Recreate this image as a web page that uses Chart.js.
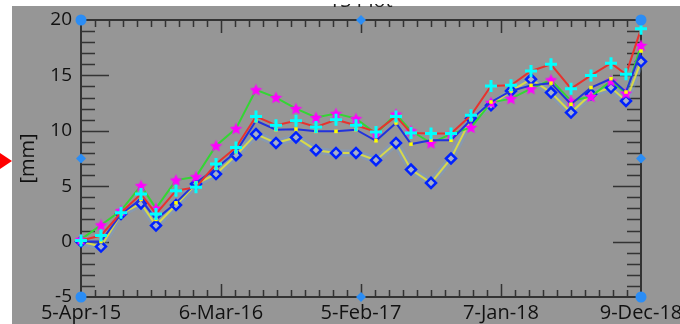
<!DOCTYPE html>
<html>
<head>
<meta charset="utf-8">
<script src="https://cdn.jsdelivr.net/npm/chart.js@4"></script>
<style>
  body { margin: 0; background: #fff; width: 680px; height: 324px; overflow: hidden; position: relative; }
  #wrap { position: absolute; left: 12px; top: 6px; width: 668px; height: 318px; background: #969696; }
  #arrow { position: absolute; left: 0; top: 153px; width: 0; height: 0;
    border-left: 12px solid #ff0000; border-top: 8px solid transparent; border-bottom: 8px solid transparent; }
  #title { position: absolute; left: 300px; width: 122px; top: -10px; text-align: center;
    font: 20px "Open Sans", sans-serif; line-height: 20px; color: #222; z-index: 2; }
  #cover { position: absolute; left: 0; top: 0; width: 680px; height: 4px; background: #fff; z-index: 3; }
</style>
</head>
<body>
<div id="arrow"></div>
<div id="title">TS Plot</div>
<div id="cover"></div>
<div id="wrap"><canvas id="plot" width="668" height="318"></canvas></div>
<script>
// days since 5-Apr-15 for each acquisition
const days = [0, 48, 96, 144, 180, 228, 276, 324, 372, 420, 468, 516, 564, 612, 660,
  708, 756, 792, 840, 888, 936, 984, 1032, 1080, 1128, 1176, 1224, 1272, 1308, 1344];

const tickDays = [0, 336, 672, 1008, 1344];
const tickLabels = ["5-Apr-15", "6-Mar-16", "5-Feb-17", "7-Jan-18", "9-Dec-18"];

// red line, cyan crosses
const redSeries = [0.1, 0.55, 2.6, 4.3, 2.5, 4.6, 4.9, 7.0, 8.5, 11.3, 10.5, 10.9, 10.35, 11.0, 10.5,
  9.9, 11.3, 9.8, 9.75, 9.75, 11.4, 14.05, 14.1, 15.4, 16.0, 13.8, 15.0, 16.1, 15.1, 19.2];
// green line, magenta stars
const greenSeries = [0.2, 1.5, 2.8, 5.05, 3.0, 5.55, 5.85, 8.65, 10.2, 13.7, 13.0, 12.0, 11.2, 11.55, 11.1,
  9.75, 11.5, 10.0, 8.9, 9.7, 10.3, 12.55, 12.9, 13.8, 14.6, 12.7, 13.1, 14.5, 13.4, 17.7];
// blue line, yellow squares
const blueSeries = [0, 0, 2.5, 3.8, 2.0, 3.5, 5.3, 6.6, 8.1, 10.9, 10.1, 10.15, 9.95, 9.95, 10.1,
  9.1, 10.7, 8.8, 9.15, 9.15, 11.0, 12.6, 13.6, 14.1, 14.3, 12.4, 13.9, 14.7, 13.5, 17.2];
// yellow line, blue diamonds
const yellowSeries = [0, -0.45, 2.5, 3.45, 1.45, 3.3, 5.2, 6.1, 7.8, 9.7, 8.9, 9.4, 8.25, 8.0, 8.0,
  7.35, 8.9, 6.5, 5.3, 7.5, 11.1, 12.3, 13.6, 14.65, 13.45, 11.65, 13.3, 13.9, 12.7, 16.25];

const toPoints = (vals) => vals.map((v, i) => ({ x: days[i], y: v }));

// filled 5-point star for the magenta markers
const star = document.createElement("canvas");
star.width = 13; star.height = 13;
(() => {
  const c = star.getContext("2d");
  c.fillStyle = "#ff00ff";
  c.beginPath();
  for (let i = 0; i < 10; i++) {
    const r = i % 2 === 0 ? 6.5 : 3;
    const a = -Math.PI / 2 + i * Math.PI / 5;
    c.lineTo(6.5 + r * Math.cos(a), 7 + r * Math.sin(a));
  }
  c.closePath();
  c.fill();
})();

const frame = {
  id: "frame",
  beforeDatasetsDraw(chart) {
    const { ctx, chartArea: a, scales: { x, y } } = chart;
    ctx.save();
    ctx.strokeStyle = "#333";
    ctx.lineWidth = 2;
    ctx.strokeRect(a.left, a.top, a.width, a.height);
    ctx.lineWidth = 1.5;
    ctx.beginPath();
    for (let v = y.min + 1; v < y.max; v++) {
      const py = Math.round(y.getPixelForValue(v)) + 0.5;
      const len = v % 5 === 0 ? 28 : 14;
      ctx.moveTo(a.left, py); ctx.lineTo(a.left + len, py);
      ctx.moveTo(a.right, py); ctx.lineTo(a.right - len, py);
    }
    const step = (x.max - x.min) / 40;
    for (let i = 1; i < 40; i++) {
      const px = Math.round(x.getPixelForValue(x.min + i * step)) + 0.5;
      const len = i % 10 === 0 ? 13 : 7;
      ctx.moveTo(px, a.top); ctx.lineTo(px, a.top + len);
      ctx.moveTo(px, a.bottom); ctx.lineTo(px, a.bottom - len);
    }
    ctx.stroke();
    ctx.restore();
  },
  afterDraw(chart) {
    const { ctx, chartArea: a } = chart;
    const mx = (a.left + a.right) / 2, my = (a.top + a.bottom) / 2;
    ctx.save();
    ctx.fillStyle = "#2b8df5";
    [[a.left, a.top], [a.right, a.top], [a.left, a.bottom], [a.right, a.bottom]].forEach(([cx, cy]) => {
      ctx.beginPath(); ctx.arc(cx, cy, 5.5, 0, Math.PI * 2); ctx.fill();
    });
    [[mx, a.top], [mx, a.bottom], [a.left, my], [a.right, my]].forEach(([cx, cy]) => {
      ctx.beginPath();
      ctx.moveTo(cx, cy - 5); ctx.lineTo(cx + 5, cy); ctx.lineTo(cx, cy + 5); ctx.lineTo(cx - 5, cy);
      ctx.closePath(); ctx.fill();
    });
    ctx.restore();
  },
};

new Chart(document.getElementById("plot"), {
  type: "line",
  data: {
    datasets: [
      {
        data: toPoints(redSeries),
        borderColor: "#e8322e", borderWidth: 2,
        pointStyle: "cross", pointRadius: 6, pointBorderWidth: 3,
        pointBorderColor: "#00ffff", pointBackgroundColor: "#00ffff",
      },
      {
        data: toPoints(blueSeries),
        borderColor: "#2233dd", borderWidth: 2,
        pointStyle: "rect", pointRadius: 2.5, pointBorderWidth: 0,
        pointBackgroundColor: "#ffff00",
      },
      {
        data: toPoints(greenSeries),
        borderColor: "#33d633", borderWidth: 2,
        pointStyle: star, pointRadius: 6,
      },
      {
        data: toPoints(yellowSeries),
        borderColor: "#d8d84a", borderWidth: 2,
        pointStyle: "rectRot", pointRadius: 5, pointBorderWidth: 2.5,
        pointBorderColor: "#0022ff", pointBackgroundColor: "#a8b0c8",
      },
      {
        // soft blue halo under the yellow line
        data: toPoints(yellowSeries),
        borderColor: "rgba(110,160,230,0.35)", borderWidth: 7,
        pointRadius: 0,
      },
    ],
  },
  options: {
    responsive: false,
    animation: false,
    events: [],
    layout: { padding: { top: 14, right: 39, left: 0, bottom: 0 } },
    elements: { line: { tension: 0 } },
    datasets: { line: { clip: false } },
    plugins: { legend: { display: false }, tooltip: { enabled: false } },
    scales: {
      x: {
        type: "linear",
        min: 0,
        max: 1344,
        grid: { display: false, drawTicks: false },
        border: { display: false },
        afterBuildTicks: (scale) => { scale.ticks = tickDays.map((v) => ({ value: v })); },
        ticks: {
          autoSkip: false,
          maxRotation: 0,
          padding: 4,
          color: "#111",
          font: { family: "Open Sans", size: 20 },
          callback: (v) => tickLabels[tickDays.indexOf(v)] ?? "",
        },
        afterFit: (scale) => {
          scale.height = 27;
          scale.paddingLeft = 0;
          scale.paddingRight = 0;
        },
      },
      y: {
        type: "linear",
        min: -5,
        max: 20,
        grid: { display: false, drawTicks: false },
        border: { display: false },
        ticks: {
          stepSize: 5,
          padding: 9,
          color: "#111",
          font: { family: "Open Sans", size: 19 },
        },
        title: {
          display: true,
          text: "[mm]",
          color: "#111",
          font: { family: "Open Sans", size: 20 },
          padding: { top: 4, bottom: 0 },
        },
        afterFit: (scale) => {
          scale.width = 69;
          scale.paddingTop = 0;
          scale.paddingBottom = 0;
        },
      },
    },
  },
  plugins: [frame],
});
</script>
</body>
</html>
